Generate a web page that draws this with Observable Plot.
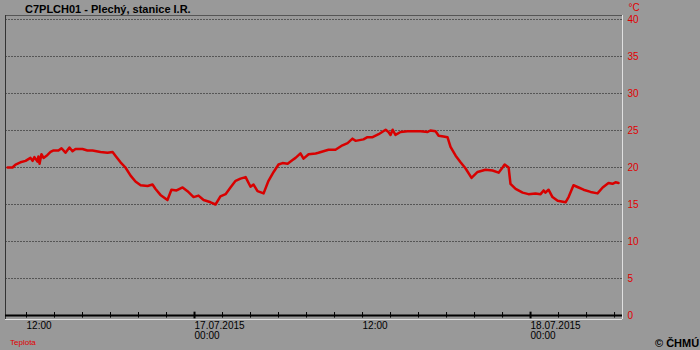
<!DOCTYPE html>
<html><head><meta charset="utf-8">
<script src="https://cdn.jsdelivr.net/npm/d3@7"></script>
<script src="https://cdn.jsdelivr.net/npm/@observablehq/plot@0.6"></script>
<style>
body{margin:0;background:#999;}
#wrap{position:relative;width:700px;height:350px;background:#999;overflow:hidden;font-family:"Liberation Sans",Arial,sans-serif;}
#wrap svg{position:absolute;left:0;top:0;}
.ov{position:absolute;white-space:nowrap;}
#title{left:25px;top:3px;font-weight:bold;font-size:11px;line-height:12px;color:#000;}
#legend{left:10px;top:339px;font-size:8px;line-height:8px;color:#e00000;}
#copy{left:655px;top:337px;font-weight:bold;font-size:11px;line-height:12px;color:#000;}
</style></head><body>
<div id="wrap">
<div class="ov" id="title">C7PLCH01 - Plechý, stanice I.R.</div>
<div class="ov" id="legend">Teplota</div>
<div class="ov" id="copy">© ČHMÚ</div>
</div>
<script>
// Temperature series (°C)
const times = [
"2015-07-16T10:39","2015-07-16T11:00","2015-07-16T11:13","2015-07-16T11:34","2015-07-16T11:56",
"2015-07-16T12:17","2015-07-16T12:26","2015-07-16T12:34","2015-07-16T12:47","2015-07-16T12:51",
"2015-07-16T12:56","2015-07-16T13:04","2015-07-16T13:13","2015-07-16T13:30","2015-07-16T13:43",
"2015-07-16T13:56","2015-07-16T14:17","2015-07-16T14:30","2015-07-16T14:47","2015-07-16T15:04",
"2015-07-16T15:17","2015-07-16T15:30","2015-07-16T16:00","2015-07-16T16:21","2015-07-16T16:43",
"2015-07-16T17:17","2015-07-16T17:47","2015-07-16T18:09","2015-07-16T18:21","2015-07-16T18:43",
"2015-07-16T19:04","2015-07-16T19:26","2015-07-16T19:47","2015-07-16T20:09","2015-07-16T20:39",
"2015-07-16T21:00","2015-07-16T21:13","2015-07-16T21:34","2015-07-16T22:04","2015-07-16T22:21",
"2015-07-16T22:43","2015-07-16T23:09","2015-07-16T23:30","2015-07-16T23:56",
"2015-07-17T00:17","2015-07-17T00:39","2015-07-17T01:09","2015-07-17T01:30","2015-07-17T01:51",
"2015-07-17T02:13","2015-07-17T02:34","2015-07-17T02:56","2015-07-17T03:17","2015-07-17T03:39",
"2015-07-17T04:00","2015-07-17T04:13","2015-07-17T04:30","2015-07-17T04:56","2015-07-17T05:17",
"2015-07-17T05:39","2015-07-17T06:00","2015-07-17T06:17","2015-07-17T06:39","2015-07-17T07:00",
"2015-07-17T07:13","2015-07-17T07:34","2015-07-17T07:47","2015-07-17T08:09","2015-07-17T08:39",
"2015-07-17T08:51","2015-07-17T09:34","2015-07-17T10:04","2015-07-17T10:34","2015-07-17T10:56",
"2015-07-17T11:17","2015-07-17T11:30","2015-07-17T12:04","2015-07-17T12:21","2015-07-17T12:43",
"2015-07-17T13:09","2015-07-17T13:39","2015-07-17T13:51","2015-07-17T14:00","2015-07-17T14:09",
"2015-07-17T14:21","2015-07-17T14:43","2015-07-17T15:13","2015-07-17T15:47","2015-07-17T16:09",
"2015-07-17T16:39","2015-07-17T16:51","2015-07-17T17:13","2015-07-17T17:26","2015-07-17T17:47",
"2015-07-17T18:04","2015-07-17T18:17","2015-07-17T18:39","2015-07-17T19:00","2015-07-17T19:21",
"2015-07-17T19:47","2015-07-17T20:13","2015-07-17T20:47","2015-07-17T21:17","2015-07-17T21:43",
"2015-07-17T22:00","2015-07-17T22:09","2015-07-17T22:26","2015-07-17T22:34","2015-07-17T22:56",
"2015-07-17T23:26","2015-07-17T23:51",
"2015-07-18T00:21","2015-07-18T00:43","2015-07-18T00:56","2015-07-18T01:04","2015-07-18T01:17",
"2015-07-18T01:34","2015-07-18T01:56","2015-07-18T02:30","2015-07-18T02:43","2015-07-18T03:04",
"2015-07-18T03:26","2015-07-18T03:47","2015-07-18T04:17","2015-07-18T04:47","2015-07-18T05:09",
"2015-07-18T05:34","2015-07-18T05:51","2015-07-18T06:04","2015-07-18T06:17"
];
const temps = [
20.0,20.0,20.4,20.7,20.9,
21.3,20.9,21.4,20.8,21.5,
20.5,21.8,21.3,21.7,22.1,
22.3,22.3,22.6,22.0,22.7,
22.2,22.5,22.5,22.3,22.3,
22.1,22.0,22.1,21.6,20.7,
20.0,18.9,18.1,17.6,17.5,
17.7,17.1,16.3,15.6,17.0,
16.9,17.3,16.8,16.0,
16.2,15.6,15.3,15.0,16.1,
16.4,17.3,18.2,18.5,18.7,
17.4,17.7,16.8,16.5,18.2,
19.4,20.4,20.6,20.5,21.0,
21.3,21.9,21.2,21.8,21.9,
22.0,22.4,22.4,23.0,23.3,
23.9,23.6,23.8,24.1,24.1,
24.5,25.1,24.8,24.4,25.1,
24.4,24.8,24.9,24.9,24.9,
24.8,25.0,24.9,24.3,24.2,
24.1,22.8,21.6,20.7,19.9,
18.6,19.4,19.7,19.6,19.3,
20.0,20.4,20.0,17.8,17.1,
16.6,16.4,
16.5,16.4,16.9,16.6,17.0,
16.0,15.5,15.3,16.0,17.6,
17.3,17.0,16.7,16.5,17.3,
17.9,17.8,18.0,17.9
];
const yTicks = [0, 5, 10, 15, 20, 25, 30, 35, 40];
const gridValues = [5, 10, 15, 20, 25, 30, 35, 40];
const xLabelTimes = ["2015-07-16T12:00", "2015-07-17T00:00", "2015-07-17T12:00", "2015-07-18T00:00"];
const xLabelTexts = ["12:00", "17.07.2015\n00:00", "12:00", "18.07.2015\n00:00"];
const unitLabel = "°C";

const parse = s => new Date(s + ":00Z");
const data = times.map((t, i) => ({t: parse(t), v: temps[i]}));
const xStart = parse("2015-07-16T10:30");
const xEnd = parse("2015-07-18T06:34");
const yBottom = -0.54, yTop = 40.54;
const tickTimes = d3.utcHour.every(2).range(parse("2015-07-16T12:00"), parse("2015-07-18T06:01"));
const majorTicks = tickTimes.filter(d => d.getUTCHours() === 0);
const minorTicks = tickTimes.filter(d => d.getUTCHours() !== 0);
const xLabels = xLabelTimes.map((t, i) => ({t: parse(t), label: xLabelTexts[i]}));
const axisFont = "'Liberation Sans Narrow','Liberation Sans',Arial,sans-serif";

const chart = Plot.plot({
  width: 700, height: 350,
  marginLeft: 5, marginRight: 78, marginTop: 15, marginBottom: 31,
  style: {background: "transparent", overflow: "visible", fontFamily: axisFont},
  x: {type: "utc", domain: [xStart, xEnd], axis: null},
  y: {domain: [yBottom, yTop], axis: null},
  marks: [
    Plot.ruleY(gridValues, {stroke: "#555", strokeDasharray: "2,1", strokeWidth: 1}),
    Plot.ruleY([yTop], {stroke: "#555", strokeWidth: 1}),
    Plot.ruleY([yBottom], {stroke: "#e0e0e0", strokeWidth: 1}),
    Plot.ruleX([xStart], {stroke: "#333", strokeWidth: 1}),
    Plot.ruleX([xEnd], {stroke: "#e0e0e0", strokeWidth: 1}),
    Plot.ruleY([0], {stroke: "#000", strokeWidth: 2}),
    Plot.ruleX(minorTicks, {y1: -0.35, y2: 0.4, stroke: "#000", strokeWidth: 1}),
    Plot.ruleX(majorTicks, {y1: -0.45, y2: 0.45, stroke: "#000", strokeWidth: 2}),
    Plot.line(data, {x: "t", y: "v", stroke: "#d80000", strokeWidth: 2.5, strokeLinejoin: "round"}),
    Plot.text(yTicks, {x: xEnd, y: d => d, text: d => String(d), dx: 5, textAnchor: "start", fill: "#e00000", fontSize: 10}),
    Plot.text([unitLabel], {x: xEnd, y: yTop, text: d => d, dx: 6, dy: -8, textAnchor: "start", fill: "#e00000", fontSize: 10}),
    Plot.text(xLabels, {x: "t", y: yBottom, text: "label", textAnchor: "start", lineAnchor: "top", dy: 2, fill: "#000", fontSize: 10})
  ]
});
document.getElementById("wrap").appendChild(chart);
</script>
</body></html>
